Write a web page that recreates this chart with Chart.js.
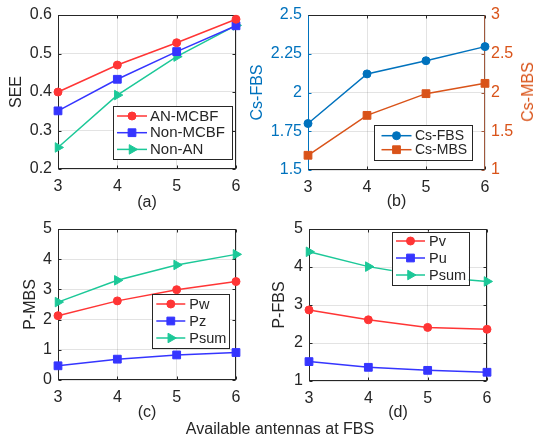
<!DOCTYPE html>
<html><head><meta charset="utf-8">
<script src="https://cdn.jsdelivr.net/npm/chart.js@4/dist/chart.umd.min.js"></script>
<style>
body{margin:0;background:#fff;width:533px;height:440px;overflow:hidden;position:relative;font-family:'Liberation Sans',Arial,sans-serif;}
canvas{position:absolute;}
.lbl{position:absolute;color:#262626;font-size:16px;white-space:nowrap;line-height:1;}
</style></head><body>
<canvas id="ca" width="265" height="215" style="left:0;top:0"></canvas>
<canvas id="cb" width="293" height="215" style="left:240px;top:0"></canvas>
<canvas id="cc" width="265" height="225" style="left:0;top:215px"></canvas>
<canvas id="cd" width="293" height="225" style="left:240px;top:215px"></canvas>
<div class="lbl" style="left:528px;top:92px;transform:translate(-50%,-50%) rotate(-90deg);color:#D95319">Cs-MBS</div>
<div class="lbl" style="left:280px;top:429px;transform:translate(-50%,-50%)">Available antennas at FBS</div>
<script>
// ---- data ----
const antennas = ['3','4','5','6'];
const seeANMCBF  = [0.400, 0.470, 0.528, 0.589];
const seeNonMCBF = [0.351, 0.433, 0.505, 0.572];
const seeNonAN   = [0.256, 0.392, 0.492, 0.573];
const csFBS = [1.800, 2.120, 2.205, 2.296];
const csMBS = [1.190, 1.705, 1.985, 2.118];
const pW      = [2.13, 2.62, 2.99, 3.26];
const pZ      = [0.47, 0.69, 0.83, 0.91];
const pSumMBS = [2.58, 3.30, 3.81, 4.16];
const pV      = [2.87, 2.61, 2.41, 2.36];
const pU      = [1.51, 1.36, 1.28, 1.23];
const pSumFBS = [4.40, 4.01, 3.75, 3.62];
const ticksSEE   = [0.2, 0.3, 0.4, 0.5, 0.6];
const ticksCsFBS = [1.5, 1.75, 2, 2.25, 2.5];
const ticksCsMBS = [1, 1.5, 2, 2.5, 3];
const ticksPMBS  = [0, 1, 2, 3, 4, 5];
const ticksPFBS  = [1, 2, 3, 4, 5];

// ---- style ----
const FF = "'Liberation Sans', Arial, sans-serif";
const TXT = '#262626';
const GRID = 'rgba(38,38,38,0.13)';
const RED = '#ff3535', BLUE = '#3535ff', GREEN = '#1cc898';
const MBLUE = '#0072BD', MORANGE = '#D95319';

function drawMarker(ctx, style, rot, r, x, y, color){
  ctx.save();
  ctx.fillStyle = color; ctx.strokeStyle = color; ctx.lineWidth = 1;
  ctx.beginPath();
  if(style === 'circle'){ ctx.arc(x, y, r, 0, Math.PI*2); }
  else if(style === 'rect'){ const s = r*Math.SQRT1_2; ctx.rect(x-s, y-s, 2*s, 2*s); }
  else if(style === 'triangle'){
    let a = (rot||0)*Math.PI/180;
    for(let k=0;k<3;k++){ const px = x+Math.sin(a)*r, py = y-Math.cos(a)*r; k?ctx.lineTo(px,py):ctx.moveTo(px,py); a += 2*Math.PI/3; }
    ctx.closePath();
  }
  ctx.fill(); ctx.stroke();
  ctx.restore();
}

const boxPlugin = {
  id: 'mbox',
  beforeDatasetsDraw(chart, args, o){
    const {ctx, chartArea: a, scales} = chart;
    const L = Math.round(a.left)+0.5, R = Math.round(a.right)-0.5, T = Math.round(a.top)+0.5, B = Math.round(a.bottom)-0.5;
    const seg = (x1,y1,x2,y2,c)=>{ ctx.strokeStyle=c; ctx.beginPath(); ctx.moveTo(x1,y1); ctx.lineTo(x2,y2); ctx.stroke(); };
    ctx.save(); ctx.lineWidth = 1;
    const tl = 3, cL = o.left||TXT, cR = o.right||TXT;
    scales.x.ticks.forEach((t,i)=>{ const px = Math.round(scales.x.getPixelForTick(i))+0.5; seg(px,B,px,B-tl,TXT); seg(px,T,px,T+tl,TXT); });
    scales.y.ticks.forEach((t,i)=>{ const py = Math.round(scales.y.getPixelForTick(i))+0.5; seg(L,py,L+tl,py,cL); seg(R,py,R-tl,py,cR); });
    seg(L-0.5,T,R+0.5,T,TXT); seg(L-0.5,B,R+0.5,B,TXT);
    seg(L,T,L,B,cL); seg(R,T,R,B,cR);
    ctx.restore();
  },
  afterDatasetsDraw(chart, args, o){
    const lg = o.legend; if(!lg) return;
    const ctx = chart.ctx; const [x,y,w,h] = lg.box;
    ctx.save();
    ctx.fillStyle = '#fff'; ctx.fillRect(x,y,w,h);
    ctx.strokeStyle = TXT; ctx.lineWidth = 1; ctx.strokeRect(Math.round(x)+0.5, Math.round(y)+0.5, Math.round(w), Math.round(h));
    ctx.font = lg.font; ctx.textBaseline = 'middle'; ctx.textAlign = 'left';
    chart.data.datasets.forEach((ds,i)=>{
      const cy = y + lg.firstRow + i*lg.rowH;
      const x0 = x + lg.lineStart, x1 = x0 + lg.lineLen;
      ctx.strokeStyle = ds.borderColor; ctx.lineWidth = ds.borderWidth;
      ctx.beginPath(); ctx.moveTo(x0,cy); ctx.lineTo(x1,cy); ctx.stroke();
      drawMarker(ctx, ds.pointStyle, ds.pointRotation, ds.pointRadius, (x0+x1)/2, cy, ds.borderColor);
      ctx.fillStyle = TXT; ctx.fillText(ds.label, x1 + lg.gap, cy+0.5);
    });
    ctx.restore();
  }
};

function ds(label, data, color, style, extra){
  const r = style === 'circle' ? 4 : 5.5;
  return Object.assign({label, data, borderColor: color, backgroundColor: color,
    pointBackgroundColor: color, pointBorderColor: color, pointStyle: style,
    pointRotation: style === 'triangle' ? 90 : 0, pointRadius: r, pointHoverRadius: r,
    borderWidth: 1.5, pointBorderWidth: 1, tension: 0, clip: false}, extra||{});
}

function xScale(title, h, tb){
  return {type:'category', offset:false,
    grid:{color:GRID, drawTicks:false}, border:{display:false},
    ticks:{color:TXT, font:{family:FF, size:16}, padding:8, maxRotation:0, autoSkip:false},
    title:{display:true, text:title, color:TXT, font:{family:FF, size:16}, padding:{top:0, bottom:tb}},
    afterFit(s){ s.height = h; }};
}
function yScale(ticks, title, w, tp, color, pos){
  return {type:'linear', position: pos||'left', min: ticks[0], max: ticks[ticks.length-1],
    afterBuildTicks(s){ s.ticks = ticks.map(v=>({value:v})); },
    grid:{color:GRID, drawTicks:false, display: pos !== 'right'}, border:{display:false},
    ticks:{color: color||TXT, font:{family:FF, size:16, lineHeight:1}, padding:6, callback: v => String(v)},
    title:{display: !!title, text:title, color: color||TXT, font:{family:FF, size:16}, padding:{top:tp, bottom:0}},
    afterFit(s){ s.width = w; }};
}
function mk(id, datasets, scales, padding, mbox){
  return new Chart(document.getElementById(id), {
    type:'line', data:{labels: antennas, datasets},
    options:{responsive:false, animation:false, events:[],
      layout:{padding},
      plugins:{legend:{display:false}, tooltip:{enabled:false}, mbox},
      scales},
    plugins:[boxPlugin]});
}

mk('ca', [ds('AN-MCBF', seeANMCBF, RED, 'circle'), ds('Non-MCBF', seeNonMCBF, BLUE, 'rect'), ds('Non-AN', seeNonAN, GREEN, 'triangle')],
  {x: xScale('(a)', 46, 3), y: yScale(ticksSEE, 'SEE', 58, 6.7)},
  {top:15, left:0, right:29, bottom:0},
  {legend:{box:[113,106,119,53], firstRow:10, rowH:16.7, lineStart:4, lineLen:30, gap:3, font:"15px "+FF}});

mk('cb', [ds('Cs-FBS', csFBS, MBLUE, 'circle'), ds('Cs-MBS', csMBS, MORANGE, 'rect', {yAxisID:'y2'})],
  {x: xScale('(b)', 45, 4), y: yScale(ticksCsFBS, 'Cs-FBS', 68, 8, MBLUE), y2: yScale(ticksCsMBS, '', 48, 0, MORANGE, 'right')},
  {top:15, left:0, right:0, bottom:0},
  {left: MBLUE, right:'#a0583c', legend:{box:[134,125,98,35], firstRow:10.7, rowH:14, lineStart:7.5, lineLen:30, gap:3.5, font:"14px "+FF}});

mk('cc', [ds('Pw', pW, RED, 'circle'), ds('Pz', pZ, BLUE, 'rect'), ds('Psum', pSumMBS, GREEN, 'triangle')],
  {x: xScale('(c)', 60, 17.5), y: yScale(ticksPMBS, 'P-MBS', 58, 20.5)},
  {top:10, left:0, right:29, bottom:0},
  {legend:{box:[152,79,77,54], firstRow:10, rowH:17, lineStart:4.3, lineLen:29, gap:4, font:"14.5px "+FF}});

mk('cd', [ds('Pv', pV, RED, 'circle'), ds('Pu', pU, BLUE, 'rect'), ds('Psum', pSumFBS, GREEN, 'triangle')],
  {x: xScale('(d)', 59, 17.5), y: yScale(ticksPFBS, 'P-FBS', 69, 29.5)},
  {top:11, left:0, right:46, bottom:0},
  {legend:{box:[151.7,16.7,77,53.3], firstRow:9.3, rowH:17, lineStart:4.3, lineLen:29, gap:4, font:"14.5px "+FF}});
</script>
</body></html>
